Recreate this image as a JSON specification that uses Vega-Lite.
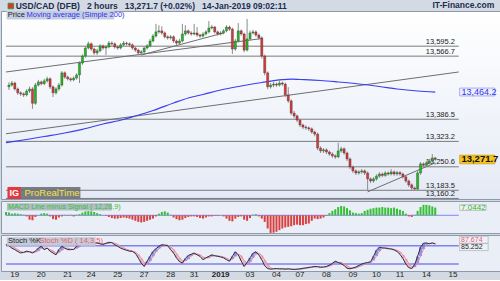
{
  "$schema": "https://vega.github.io/schema/vega-lite/v6.json",
  "background": "#d3dae3",
  "padding": 0,
  "spacing": 0,
  "config": {
    "font": "Liberation Sans",
    "view": {"stroke": "#8e99a9", "strokeWidth": 1},
    "axis": {"labelFont": "Liberation Sans", "labelColor": "#1e1e1e", "labelFontSize": 8.5, "grid": false, "domainColor": "#8e99a9", "tickColor": "#8e99a9"}
  },
  "datasets": {
    "candles": [
      {"t":1,"o":13479,"h":13492,"l":13470,"c":13484},
      {"t":2,"o":13484,"h":13496,"l":13480,"c":13490},
      {"t":3,"o":13490,"h":13494,"l":13468,"c":13473},
      {"t":4,"o":13473,"h":13477,"l":13456,"c":13462},
      {"t":5,"o":13462,"h":13466,"l":13453,"c":13459},
      {"t":6,"o":13459,"h":13463,"l":13450,"c":13456},
      {"t":7,"o":13456,"h":13472,"l":13452,"c":13467},
      {"t":8,"o":13467,"h":13480,"l":13462,"c":13473},
      {"t":9,"o":13473,"h":13478,"l":13416,"c":13432},
      {"t":10,"o":13432,"h":13490,"l":13428,"c":13484},
      {"t":11,"o":13484,"h":13499,"l":13480,"c":13493},
      {"t":12,"o":13493,"h":13497,"l":13483,"c":13488},
      {"t":13,"o":13488,"h":13502,"l":13484,"c":13496},
      {"t":14,"o":13496,"h":13508,"l":13491,"c":13502},
      {"t":15,"o":13502,"h":13506,"l":13473,"c":13479},
      {"t":16,"o":13479,"h":13483,"l":13450,"c":13462},
      {"t":17,"o":13462,"h":13478,"l":13457,"c":13473},
      {"t":18,"o":13473,"h":13490,"l":13468,"c":13484},
      {"t":19,"o":13484,"h":13524,"l":13480,"c":13519},
      {"t":20,"o":13519,"h":13523,"l":13502,"c":13507},
      {"t":21,"o":13507,"h":13511,"l":13497,"c":13502},
      {"t":22,"o":13502,"h":13506,"l":13494,"c":13499},
      {"t":23,"o":13499,"h":13509,"l":13495,"c":13504},
      {"t":24,"o":13504,"h":13518,"l":13500,"c":13513},
      {"t":25,"o":13513,"h":13552,"l":13490,"c":13547},
      {"t":26,"o":13547,"h":13572,"l":13542,"c":13567},
      {"t":27,"o":13567,"h":13595,"l":13562,"c":13590},
      {"t":28,"o":13590,"h":13608,"l":13586,"c":13602},
      {"t":29,"o":13602,"h":13606,"l":13582,"c":13587},
      {"t":30,"o":13587,"h":13591,"l":13571,"c":13576},
      {"t":31,"o":13576,"h":13588,"l":13570,"c":13582},
      {"t":32,"o":13582,"h":13601,"l":13578,"c":13596},
      {"t":33,"o":13596,"h":13600,"l":13585,"c":13590},
      {"t":34,"o":13590,"h":13598,"l":13570,"c":13593},
      {"t":35,"o":13593,"h":13610,"l":13589,"c":13604},
      {"t":36,"o":13604,"h":13609,"l":13597,"c":13602},
      {"t":37,"o":13602,"h":13606,"l":13588,"c":13593},
      {"t":38,"o":13593,"h":13597,"l":13585,"c":13590},
      {"t":39,"o":13590,"h":13604,"l":13586,"c":13599},
      {"t":40,"o":13599,"h":13610,"l":13595,"c":13604},
      {"t":41,"o":13604,"h":13608,"l":13597,"c":13602},
      {"t":42,"o":13602,"h":13606,"l":13594,"c":13599},
      {"t":43,"o":13599,"h":13603,"l":13585,"c":13590},
      {"t":44,"o":13590,"h":13594,"l":13579,"c":13584},
      {"t":45,"o":13584,"h":13588,"l":13570,"c":13576},
      {"t":46,"o":13576,"h":13584,"l":13571,"c":13579},
      {"t":47,"o":13579,"h":13595,"l":13575,"c":13590},
      {"t":48,"o":13590,"h":13601,"l":13586,"c":13596},
      {"t":49,"o":13596,"h":13616,"l":13592,"c":13610},
      {"t":50,"o":13610,"h":13630,"l":13606,"c":13624},
      {"t":51,"o":13624,"h":13659,"l":13620,"c":13636},
      {"t":52,"o":13636,"h":13655,"l":13631,"c":13639},
      {"t":53,"o":13639,"h":13652,"l":13628,"c":13633},
      {"t":54,"o":13633,"h":13637,"l":13617,"c":13622},
      {"t":55,"o":13622,"h":13626,"l":13614,"c":13619},
      {"t":56,"o":13619,"h":13627,"l":13614,"c":13622},
      {"t":57,"o":13622,"h":13626,"l":13605,"c":13610},
      {"t":58,"o":13610,"h":13614,"l":13599,"c":13604},
      {"t":59,"o":13604,"h":13616,"l":13600,"c":13610},
      {"t":60,"o":13610,"h":13659,"l":13606,"c":13630},
      {"t":61,"o":13630,"h":13655,"l":13625,"c":13639},
      {"t":62,"o":13639,"h":13643,"l":13628,"c":13633},
      {"t":63,"o":13633,"h":13638,"l":13625,"c":13630},
      {"t":64,"o":13630,"h":13659,"l":13626,"c":13633},
      {"t":65,"o":13633,"h":13650,"l":13622,"c":13627},
      {"t":66,"o":13627,"h":13631,"l":13619,"c":13624},
      {"t":67,"o":13624,"h":13635,"l":13620,"c":13630},
      {"t":68,"o":13630,"h":13641,"l":13626,"c":13636},
      {"t":69,"o":13636,"h":13667,"l":13632,"c":13647},
      {"t":70,"o":13647,"h":13656,"l":13643,"c":13650},
      {"t":71,"o":13650,"h":13653,"l":13631,"c":13636},
      {"t":72,"o":13636,"h":13640,"l":13625,"c":13630},
      {"t":73,"o":13630,"h":13638,"l":13626,"c":13633},
      {"t":74,"o":13633,"h":13644,"l":13629,"c":13639},
      {"t":75,"o":13639,"h":13655,"l":13635,"c":13650},
      {"t":76,"o":13650,"h":13654,"l":13639,"c":13644},
      {"t":77,"o":13644,"h":13648,"l":13573,"c":13587},
      {"t":78,"o":13587,"h":13616,"l":13582,"c":13610},
      {"t":79,"o":13610,"h":13661,"l":13605,"c":13639},
      {"t":80,"o":13639,"h":13643,"l":13625,"c":13630},
      {"t":81,"o":13630,"h":13634,"l":13578,"c":13584},
      {"t":82,"o":13584,"h":13673,"l":13580,"c":13616},
      {"t":83,"o":13616,"h":13640,"l":13611,"c":13633},
      {"t":84,"o":13633,"h":13642,"l":13629,"c":13636},
      {"t":85,"o":13636,"h":13640,"l":13622,"c":13627},
      {"t":86,"o":13627,"h":13631,"l":13614,"c":13619},
      {"t":87,"o":13619,"h":13623,"l":13560,"c":13567},
      {"t":88,"o":13567,"h":13571,"l":13512,"c":13519},
      {"t":89,"o":13519,"h":13523,"l":13472,"c":13479},
      {"t":90,"o":13479,"h":13490,"l":13474,"c":13484},
      {"t":91,"o":13484,"h":13493,"l":13478,"c":13487},
      {"t":92,"o":13487,"h":13491,"l":13479,"c":13484},
      {"t":93,"o":13484,"h":13497,"l":13480,"c":13490},
      {"t":94,"o":13490,"h":13494,"l":13482,"c":13487},
      {"t":95,"o":13487,"h":13491,"l":13450,"c":13456},
      {"t":96,"o":13456,"h":13478,"l":13433,"c":13439},
      {"t":97,"o":13439,"h":13443,"l":13398,"c":13404},
      {"t":98,"o":13404,"h":13410,"l":13390,"c":13396},
      {"t":99,"o":13396,"h":13400,"l":13378,"c":13384},
      {"t":100,"o":13384,"h":13388,"l":13364,"c":13370},
      {"t":101,"o":13370,"h":13374,"l":13358,"c":13364},
      {"t":102,"o":13364,"h":13369,"l":13356,"c":13362},
      {"t":103,"o":13362,"h":13366,"l":13353,"c":13359},
      {"t":104,"o":13359,"h":13363,"l":13345,"c":13350},
      {"t":105,"o":13350,"h":13354,"l":13338,"c":13344},
      {"t":106,"o":13344,"h":13348,"l":13298,"c":13304},
      {"t":107,"o":13304,"h":13309,"l":13290,"c":13296},
      {"t":108,"o":13296,"h":13304,"l":13290,"c":13299},
      {"t":109,"o":13299,"h":13303,"l":13287,"c":13293},
      {"t":110,"o":13293,"h":13297,"l":13282,"c":13287},
      {"t":111,"o":13287,"h":13292,"l":13276,"c":13282},
      {"t":112,"o":13282,"h":13286,"l":13273,"c":13279},
      {"t":113,"o":13279,"h":13319,"l":13275,"c":13296},
      {"t":114,"o":13296,"h":13308,"l":13291,"c":13302},
      {"t":115,"o":13302,"h":13306,"l":13285,"c":13290},
      {"t":116,"o":13290,"h":13294,"l":13267,"c":13273},
      {"t":117,"o":13273,"h":13277,"l":13244,"c":13250},
      {"t":118,"o":13250,"h":13254,"l":13233,"c":13239},
      {"t":119,"o":13239,"h":13243,"l":13227,"c":13233},
      {"t":120,"o":13233,"h":13241,"l":13228,"c":13236},
      {"t":121,"o":13236,"h":13244,"l":13231,"c":13239},
      {"t":122,"o":13239,"h":13243,"l":13227,"c":13233},
      {"t":123,"o":13233,"h":13237,"l":13182,"c":13216},
      {"t":124,"o":13216,"h":13220,"l":13204,"c":13210},
      {"t":125,"o":13210,"h":13221,"l":13205,"c":13216},
      {"t":126,"o":13216,"h":13229,"l":13211,"c":13224},
      {"t":127,"o":13224,"h":13235,"l":13219,"c":13230},
      {"t":128,"o":13230,"h":13234,"l":13221,"c":13226},
      {"t":129,"o":13226,"h":13238,"l":13222,"c":13233},
      {"t":130,"o":13233,"h":13237,"l":13225,"c":13230},
      {"t":131,"o":13230,"h":13244,"l":13226,"c":13236},
      {"t":132,"o":13236,"h":13240,"l":13225,"c":13230},
      {"t":133,"o":13230,"h":13239,"l":13225,"c":13234},
      {"t":134,"o":13234,"h":13238,"l":13225,"c":13230},
      {"t":135,"o":13230,"h":13234,"l":13217,"c":13222},
      {"t":136,"o":13222,"h":13226,"l":13205,"c":13210},
      {"t":137,"o":13210,"h":13214,"l":13193,"c":13199},
      {"t":138,"o":13199,"h":13203,"l":13184,"c":13190},
      {"t":139,"o":13190,"h":13194,"l":13182,"c":13187},
      {"t":140,"o":13187,"h":13238,"l":13183,"c":13233},
      {"t":141,"o":13233,"h":13264,"l":13228,"c":13259},
      {"t":142,"o":13259,"h":13263,"l":13250,"c":13255},
      {"t":143,"o":13255,"h":13267,"l":13251,"c":13262},
      {"t":144,"o":13262,"h":13273,"l":13258,"c":13267},
      {"t":145,"o":13267,"h":13287,"l":13262,"c":13276},
      {"t":146,"o":13276,"h":13279,"l":13268,"c":13271.7}
    ],
    "ma": [
      {"t":0,"v":13319.5},{"t":7,"v":13328.6},{"t":13,"v":13337.2},{"t":20,"v":13347.2},
      {"t":26,"v":13357.7},{"t":33,"v":13372.9},{"t":40,"v":13385.7},{"t":44,"v":13395.7},
      {"t":50,"v":13411.5},{"t":57,"v":13432.9},{"t":62,"v":13447.2},{"t":67,"v":13457.2},
      {"t":73,"v":13470},{"t":80,"v":13481.4},{"t":87,"v":13491.4},{"t":94,"v":13499.5},
      {"t":97,"v":13501},{"t":100,"v":13500},{"t":107,"v":13497.2},{"t":113,"v":13492.9},
      {"t":120,"v":13487.2},{"t":127,"v":13480},{"t":133,"v":13472.9},{"t":140,"v":13467.2},
      {"t":146,"v":13464.2}
    ],
    "levels": [
      {"p":13595.2},{"p":13566.7},{"p":13386.5},{"p":13323.2},{"p":13250.6},{"p":13183.5},{"p":13160.2}
    ],
    "trend": [
      {"id":"A","t":0,"p":13345},{"id":"A","t":154,"p":13521.5},
      {"id":"B","t":0,"p":13521.5},{"id":"B","t":87,"p":13617},
      {"id":"C","t":46,"p":13570},{"id":"C","t":74,"p":13633},
      {"id":"D","t":123,"p":13179},{"id":"D","t":146,"p":13262}
    ],
    "days": [
      {"t":3,"day":"19"},{"t":12,"day":"20"},{"t":21,"day":"21"},{"t":29,"day":"24"},{"t":38,"day":"25"},{"t":47,"day":"27"},
      {"t":56,"day":"28"},{"t":64,"day":"31"},{"t":73,"day":"2019"},{"t":83,"day":"03"},{"t":92,"day":"04"},{"t":100,"day":"07"},
      {"t":109,"day":"08"},{"t":118,"day":"09"},{"t":126,"day":"10"},{"t":134,"day":"11"},{"t":143,"day":"14"},{"t":152,"day":"15"}
    ],
    "macd": [
      {"t":0,"m":3},{"t":1,"m":2.5},{"t":2,"m":1.5},{"t":3,"m":1.8},{"t":4,"m":1.5},{"t":5,"m":1},{"t":6,"m":0.5},{"t":7,"m":-1},
      {"t":8,"m":-4},{"t":9,"m":-4.5},{"t":10,"m":-1.5},{"t":11,"m":0.2},{"t":12,"m":1.5},{"t":13,"m":2},{"t":14,"m":1.5},{"t":15,"m":-1},
      {"t":16,"m":-3.5},{"t":17,"m":-4},{"t":18,"m":-2},{"t":19,"m":-1},{"t":20,"m":0.5},{"t":21,"m":-0.5},{"t":22,"m":0.5},{"t":23,"m":-1},
      {"t":24,"m":0.5},{"t":25,"m":1},{"t":26,"m":2.5},{"t":27,"m":3.5},{"t":28,"m":3.8},{"t":29,"m":3.6},{"t":30,"m":3},{"t":31,"m":2},
      {"t":32,"m":1},{"t":33,"m":0.2},{"t":34,"m":-0.5},{"t":35,"m":-1.5},{"t":36,"m":-2.5},{"t":37,"m":-3},{"t":38,"m":-3},{"t":39,"m":-2.5},
      {"t":40,"m":-2},{"t":41,"m":-2.5},{"t":42,"m":-3},{"t":43,"m":-4},{"t":44,"m":-5},{"t":45,"m":-6},{"t":46,"m":-6.5},{"t":47,"m":-6},
      {"t":48,"m":-5},{"t":49,"m":-4},{"t":50,"m":-3},{"t":51,"m":-1},{"t":52,"m":1.5},{"t":53,"m":3},{"t":54,"m":3.6},{"t":55,"m":2.5},
      {"t":56,"m":0.5},{"t":57,"m":-2},{"t":58,"m":-3.5},{"t":59,"m":-4.5},{"t":60,"m":-4},{"t":61,"m":-2.5},{"t":62,"m":-1.5},{"t":63,"m":-1},
      {"t":64,"m":-1},{"t":65,"m":-1.5},{"t":66,"m":-2.5},{"t":67,"m":-3},{"t":68,"m":-2},{"t":69,"m":-1},{"t":70,"m":-1},{"t":71,"m":-0.5},
      {"t":72,"m":-0.5},{"t":73,"m":0.2},{"t":74,"m":-1},{"t":75,"m":-3},{"t":76,"m":-5},{"t":77,"m":-5.5},{"t":78,"m":-3},{"t":79,"m":-1.5},
      {"t":80,"m":-1},{"t":81,"m":-4},{"t":82,"m":-5},{"t":83,"m":-2.5},{"t":84,"m":0.5},{"t":85,"m":1},{"t":86,"m":-1},{"t":87,"m":-3},
      {"t":88,"m":-6},{"t":89,"m":-12},{"t":90,"m":-16},{"t":91,"m":-15.8},{"t":92,"m":-15},{"t":93,"m":-13.5},{"t":94,"m":-12},{"t":95,"m":-11},
      {"t":96,"m":-10.5},{"t":97,"m":-10},{"t":98,"m":-9},{"t":99,"m":-8.5},{"t":100,"m":-9},{"t":101,"m":-9},{"t":102,"m":-8},{"t":103,"m":-7.5},
      {"t":104,"m":-5},{"t":105,"m":-3},{"t":106,"m":-3.5},{"t":107,"m":-3},{"t":108,"m":-2},{"t":109,"m":-0.5},{"t":110,"m":2},{"t":111,"m":4},
      {"t":112,"m":5.5},{"t":113,"m":7.5},{"t":114,"m":8.5},{"t":115,"m":8},{"t":116,"m":6.5},{"t":117,"m":4.5},{"t":118,"m":2.5},{"t":119,"m":2},
      {"t":120,"m":1.5},{"t":121,"m":2},{"t":122,"m":4},{"t":123,"m":5},{"t":124,"m":6},{"t":125,"m":6.5},{"t":126,"m":7},{"t":127,"m":7},
      {"t":128,"m":7.5},{"t":129,"m":7},{"t":130,"m":7},{"t":131,"m":6.5},{"t":132,"m":7},{"t":133,"m":6},{"t":134,"m":5},{"t":135,"m":4},
      {"t":136,"m":1.5},{"t":137,"m":-1},{"t":138,"m":-1.5},{"t":139,"m":0.5},{"t":140,"m":4},{"t":141,"m":7.5},{"t":142,"m":9.5},{"t":143,"m":9.5},
      {"t":144,"m":9},{"t":145,"m":8},{"t":146,"m":7.0442}
    ],
    "stoch": [
      {"t":0,"k":83,"d":85},{"t":1,"k":80,"d":84},{"t":2,"k":72,"d":78},{"t":3,"k":67,"d":73},{"t":4,"k":61,"d":67},{"t":5,"k":56,"d":61},
      {"t":6,"k":58,"d":58},{"t":7,"k":62,"d":59},{"t":8,"k":60,"d":60},{"t":9,"k":56,"d":59},{"t":10,"k":62,"d":59},{"t":11,"k":72,"d":63},
      {"t":12,"k":78,"d":71},{"t":13,"k":67,"d":72},{"t":14,"k":72,"d":72},{"t":15,"k":62,"d":67},{"t":16,"k":56,"d":63},{"t":17,"k":50,"d":56},
      {"t":18,"k":67,"d":58},{"t":19,"k":78,"d":65},{"t":20,"k":72,"d":72},{"t":21,"k":67,"d":72},{"t":22,"k":67,"d":69},{"t":23,"k":68,"d":67},
      {"t":24,"k":78,"d":71},{"t":25,"k":83,"d":76},{"t":26,"k":89,"d":83},{"t":27,"k":91,"d":88},{"t":28,"k":90,"d":90},{"t":29,"k":86,"d":89},
      {"t":30,"k":88,"d":88},{"t":31,"k":89,"d":88},{"t":32,"k":86,"d":88},{"t":33,"k":84,"d":86},{"t":34,"k":88,"d":86},{"t":35,"k":91,"d":88},
      {"t":36,"k":90,"d":90},{"t":37,"k":83,"d":88},{"t":38,"k":78,"d":84},{"t":39,"k":72,"d":78},{"t":40,"k":68,"d":73},{"t":41,"k":65,"d":68},
      {"t":42,"k":62,"d":65},{"t":43,"k":61,"d":63},{"t":44,"k":55,"d":59},{"t":45,"k":40,"d":52},{"t":46,"k":23,"d":39},{"t":47,"k":12,"d":25},
      {"t":48,"k":29,"d":21},{"t":49,"k":45,"d":29},{"t":50,"k":61,"d":45},{"t":51,"k":70,"d":59},{"t":52,"k":78,"d":70},{"t":53,"k":83,"d":77},
      {"t":54,"k":82,"d":81},{"t":55,"k":80,"d":82},{"t":56,"k":67,"d":76},{"t":57,"k":56,"d":68},{"t":58,"k":40,"d":54},{"t":59,"k":28,"d":41},
      {"t":60,"k":23,"d":30},{"t":61,"k":38,"d":30},{"t":62,"k":48,"d":36},{"t":63,"k":52,"d":46},{"t":64,"k":56,"d":52},{"t":65,"k":50,"d":53},
      {"t":66,"k":45,"d":50},{"t":67,"k":34,"d":43},{"t":68,"k":40,"d":40},{"t":69,"k":45,"d":40},{"t":70,"k":50,"d":45},{"t":71,"k":47,"d":47},
      {"t":72,"k":45,"d":47},{"t":73,"k":43,"d":45},{"t":74,"k":40,"d":43},{"t":75,"k":34,"d":39},{"t":76,"k":29,"d":34},{"t":77,"k":45,"d":36},
      {"t":78,"k":60,"d":45},{"t":79,"k":50,"d":52},{"t":80,"k":30,"d":47},{"t":81,"k":12,"d":31},{"t":82,"k":25,"d":22},{"t":83,"k":40,"d":26},
      {"t":84,"k":55,"d":40},{"t":85,"k":60,"d":52},{"t":86,"k":50,"d":55},{"t":87,"k":34,"d":48},{"t":88,"k":14,"d":33},{"t":89,"k":5,"d":18},
      {"t":90,"k":3,"d":7},{"t":91,"k":4,"d":4},{"t":92,"k":5,"d":4},{"t":93,"k":4,"d":4},{"t":94,"k":4,"d":4},{"t":95,"k":3,"d":4},
      {"t":96,"k":4,"d":4},{"t":97,"k":3,"d":3},{"t":98,"k":2,"d":3},{"t":99,"k":3,"d":3},{"t":100,"k":4,"d":3},{"t":101,"k":6,"d":4},
      {"t":102,"k":7,"d":6},{"t":103,"k":9,"d":7},{"t":104,"k":10,"d":9},{"t":105,"k":12,"d":10},{"t":106,"k":11,"d":11},{"t":107,"k":9,"d":11},
      {"t":108,"k":10,"d":10},{"t":109,"k":12,"d":10},{"t":110,"k":16,"d":13},{"t":111,"k":22,"d":17},{"t":112,"k":29,"d":22},{"t":113,"k":25,"d":25},
      {"t":114,"k":21,"d":25},{"t":115,"k":15,"d":20},{"t":116,"k":6,"d":14},{"t":117,"k":4,"d":8},{"t":118,"k":7,"d":6},{"t":119,"k":10,"d":7},
      {"t":120,"k":15,"d":11},{"t":121,"k":20,"d":15},{"t":122,"k":23,"d":19},{"t":123,"k":25,"d":23},{"t":124,"k":27,"d":25},{"t":125,"k":45,"d":32},
      {"t":126,"k":65,"d":46},{"t":127,"k":75,"d":62},{"t":128,"k":73,"d":71},{"t":129,"k":72,"d":73},{"t":130,"k":70,"d":72},{"t":131,"k":69,"d":70},
      {"t":132,"k":66,"d":68},{"t":133,"k":61,"d":65},{"t":134,"k":52,"d":60},{"t":135,"k":38,"d":50},{"t":136,"k":20,"d":37},{"t":137,"k":8,"d":22},
      {"t":138,"k":5,"d":11},{"t":139,"k":18,"d":10},{"t":140,"k":45,"d":23},{"t":141,"k":75,"d":46},{"t":142,"k":88,"d":69},{"t":143,"k":89,"d":84},
      {"t":144,"k":86,"d":88},{"t":145,"k":89,"d":88},{"t":146,"k":85.252,"d":87.674}
    ]
  },
  "vconcat": [
    {
      "width": 500,
      "height": 188,
      "view": {"fill": {"gradient": "linear", "x1": 0, "y1": 0, "x2": 0, "y2": 1, "stops": [{"offset": 0, "color": "#ffffff"}, {"offset": 1, "color": "#e4eaf5"}]}},
      "layer": [
        {
          "data": {"name": "levels"},
          "mark": {"type": "rule", "color": "#7a7a7a", "strokeWidth": 1},
          "encoding": {
            "x": {"datum": 0, "type": "quantitative", "scale": {"domain": [0, 166.667], "nice": false, "zero": false}, "axis": null},
            "x2": {"datum": 154},
            "y": {"field": "p", "type": "quantitative", "scale": {"domain": [13158.6, 13695.7], "nice": false, "zero": false},
              "axis": {"orient": "right", "offset": -38, "title": null, "values": [13200, 13250, 13300, 13350, 13400, 13450, 13500, 13550, 13600, 13650], "format": ",.0f", "tickSize": 2, "labelPadding": 2, "labelFontSize": 8.5,
                "labelFontWeight": {"condition": {"test": "datum.value == 13500", "value": "bold"}, "value": "normal"}}}
          }
        },
        {
          "data": {"name": "levels"},
          "mark": {"type": "text", "align": "right", "baseline": "bottom", "dy": -0.5, "fontSize": 7.5, "color": "#222222"},
          "encoding": {
            "x": {"datum": 152.7, "type": "quantitative", "axis": null},
            "y": {"field": "p", "type": "quantitative", "axis": null},
            "text": {"field": "p", "type": "quantitative", "format": ",.1f"}
          }
        },
        {
          "data": {"name": "trend"},
          "mark": {"type": "line", "color": "#6e6e6e", "strokeWidth": 1},
          "encoding": {
            "x": {"field": "t", "type": "quantitative", "axis": null},
            "y": {"field": "p", "type": "quantitative", "axis": null},
            "detail": {"field": "id"}
          }
        },
        {
          "data": {"name": "ma"},
          "mark": {"type": "line", "color": "#3a3ff0", "strokeWidth": 1.2, "interpolate": "monotone"},
          "encoding": {
            "x": {"field": "t", "type": "quantitative", "axis": null},
            "y": {"field": "v", "type": "quantitative", "axis": null}
          }
        },
        {
          "data": {"name": "candles"},
          "mark": {"type": "rule", "color": "#8c8c8c", "strokeWidth": 1},
          "encoding": {
            "x": {"field": "t", "type": "quantitative", "axis": null},
            "y": {"field": "l", "type": "quantitative", "axis": null},
            "y2": {"field": "h"}
          }
        },
        {
          "data": {"name": "candles"},
          "mark": {"type": "bar", "size": 2.2, "stroke": "#2a2a2a", "strokeWidth": 0.3},
          "encoding": {
            "x": {"field": "t", "type": "quantitative", "axis": null},
            "y": {"field": "o", "type": "quantitative", "axis": null},
            "y2": {"field": "c"},
            "color": {"condition": {"test": "datum.c >= datum.o", "value": "#22b522"}, "value": "#d23a3a"}
          }
        },
        {
          "data": {"values": [{"name": "Price"}]},
          "mark": {"type": "rect", "color": "#c3cde0"},
          "encoding": {
            "x": {"datum": 0.2, "type": "quantitative", "axis": null},
            "x2": {"datum": 36.8},
            "y": {"datum": 13695.5, "type": "quantitative", "axis": null},
            "y2": {"datum": 13671.5}
          }
        },
        {
          "data": {"values": [{"name": "Price"}]},
          "mark": {"type": "text", "align": "left", "baseline": "middle", "fontSize": 7.5, "color": "#1e1e1e"},
          "encoding": {
            "x": {"datum": 0.6, "type": "quantitative", "axis": null},
            "y": {"datum": 13684, "type": "quantitative", "axis": null},
            "text": {"field": "name"}
          }
        },
        {
          "data": {"values": [{"name": "Moving average (Simple 200)"}]},
          "mark": {"type": "text", "align": "left", "baseline": "middle", "fontSize": 7.5, "color": "#3535ee"},
          "encoding": {
            "x": {"datum": 7, "type": "quantitative", "axis": null},
            "y": {"datum": 13684, "type": "quantitative", "axis": null},
            "text": {"field": "name"}
          }
        },
        {
          "data": {"values": [{"name": "ProRealTime"}]},
          "mark": {"type": "rect", "color": "#6d7075", "opacity": 0.9},
          "encoding": {
            "x": {"datum": 0.57, "type": "quantitative", "axis": null},
            "x2": {"datum": 25.3},
            "y": {"datum": 13193, "type": "quantitative", "axis": null},
            "y2": {"datum": 13159}
          }
        },
        {
          "data": {"values": [{"name": "IG"}]},
          "mark": {"type": "rect", "color": "#e2383e"},
          "encoding": {
            "x": {"datum": 0.57, "type": "quantitative", "axis": null},
            "x2": {"datum": 5},
            "y": {"datum": 13193, "type": "quantitative", "axis": null},
            "y2": {"datum": 13159}
          }
        },
        {
          "data": {"values": [{"name": "IG"}]},
          "mark": {"type": "text", "align": "center", "baseline": "middle", "fontSize": 9, "fontWeight": "bold", "color": "#ffffff"},
          "encoding": {
            "x": {"datum": 2.8, "type": "quantitative", "axis": null},
            "y": {"datum": 13175.5, "type": "quantitative", "axis": null},
            "text": {"field": "name"}
          }
        },
        {
          "data": {"values": [{"name": "ProRealTime"}]},
          "mark": {"type": "text", "align": "left", "baseline": "middle", "fontSize": 9.5, "color": "#f2e24a"},
          "encoding": {
            "x": {"datum": 6.3, "type": "quantitative", "axis": null},
            "y": {"datum": 13175.5, "type": "quantitative", "axis": null},
            "text": {"field": "name"}
          }
        },
        {
          "data": {"values": [{"name": "13,271.7"}]},
          "mark": {"type": "rect", "color": "#f6c21c", "stroke": "#b08a10", "strokeWidth": 0.5},
          "encoding": {
            "x": {"datum": 154.3, "type": "quantitative", "axis": null},
            "x2": {"datum": 166.3},
            "y": {"datum": 13284, "type": "quantitative", "axis": null},
            "y2": {"datum": 13259}
          }
        },
        {
          "data": {"values": [{"name": "13,271.7"}]},
          "mark": {"type": "text", "align": "left", "baseline": "middle", "fontSize": 9.5, "fontWeight": "bold", "color": "#111111"},
          "encoding": {
            "x": {"datum": 154.9, "type": "quantitative", "axis": null},
            "y": {"datum": 13271.7, "type": "quantitative", "axis": null},
            "text": {"field": "name"}
          }
        },
        {
          "data": {"values": [{"name": "13,464.2"}]},
          "mark": {"type": "rect", "color": "#eef1fa", "stroke": "#7b82e8", "strokeWidth": 0.6},
          "encoding": {
            "x": {"datum": 154.3, "type": "quantitative", "axis": null},
            "x2": {"datum": 166.3},
            "y": {"datum": 13475.5, "type": "quantitative", "axis": null},
            "y2": {"datum": 13453}
          }
        },
        {
          "data": {"values": [{"name": "13,464.2"}]},
          "mark": {"type": "text", "align": "left", "baseline": "middle", "fontSize": 9, "color": "#3535ee"},
          "encoding": {
            "x": {"datum": 154.9, "type": "quantitative", "axis": null},
            "y": {"datum": 13464.2, "type": "quantitative", "axis": null},
            "text": {"field": "name"}
          }
        },
        {
          "data": {"values": [{"name": "icon"}]},
          "mark": {"type": "rect", "color": "#d9363c", "stroke": "#2a9a2a", "strokeWidth": 0.8},
          "encoding": {
            "x": {"datum": 0.7, "type": "quantitative", "axis": null},
            "x2": {"datum": 2.6},
            "y": {"datum": 13718, "type": "quantitative", "axis": null},
            "y2": {"datum": 13702}
          }
        },
        {
          "data": {"values": [{"name": "USD/CAD (DFB)\u00a0\u00a0 2 hours\u00a0\u00a0 13,271.7 (+0.02%)\u00a0\u00a0 14-Jan-2019 09:02:11"}]},
          "mark": {"type": "text", "align": "left", "baseline": "top", "dy": 1, "fontSize": 8.5, "fontWeight": "bold", "color": "#1d2c50"},
          "encoding": {
            "x": {"datum": 3.3, "type": "quantitative", "axis": null},
            "y": {"datum": 13724.3, "type": "quantitative", "axis": null},
            "text": {"field": "name"}
          }
        },
        {
          "data": {"values": [{"name": "IT-Finance.com"}]},
          "mark": {"type": "text", "align": "right", "baseline": "top", "fontSize": 8.5, "fontWeight": "bold", "color": "#1d2c50"},
          "encoding": {
            "x": {"datum": 166.1, "type": "quantitative", "axis": null},
            "y": {"datum": 13724.3, "type": "quantitative", "axis": null},
            "text": {"field": "name"}
          }
        }
      ]
    },
    {
      "width": 500,
      "height": 32,
      "view": {"fill": "#eaeef6"},
      "layer": [
        {
          "data": {"values": [{"z": 0}]},
          "mark": {"type": "rule", "color": "#8585ee", "strokeWidth": 1},
          "encoding": {
            "x": {"datum": 0, "type": "quantitative", "scale": {"domain": [0, 166.667], "nice": false, "zero": false}, "axis": null},
            "x2": {"datum": 154},
            "y": {"field": "z", "type": "quantitative", "scale": {"domain": [-16.1, 13], "nice": false, "zero": false},
              "axis": {"orient": "right", "offset": -38, "title": null, "values": [0, -10], "tickSize": 2, "labelPadding": 3, "labelFontSize": 8.5}}
          }
        },
        {
          "data": {"name": "macd"},
          "mark": {"type": "bar", "size": 2},
          "encoding": {
            "x": {"field": "t", "type": "quantitative", "axis": null},
            "y": {"field": "m", "type": "quantitative", "axis": null},
            "y2": {"datum": 0},
            "color": {"condition": {"test": "datum.m >= 0", "value": "#35c035"}, "value": "#d94040"}
          }
        },
        {
          "data": {"values": [{"name": "MACD Line minus Signal ( 12,26,9)"}]},
          "mark": {"type": "rect", "color": "#b4bcc9"},
          "encoding": {
            "x": {"datum": 0.3, "type": "quantitative", "axis": null},
            "x2": {"datum": 36},
            "y": {"datum": 11, "type": "quantitative", "axis": null},
            "y2": {"datum": 4.3}
          }
        },
        {
          "data": {"values": [{"name": "MACD Line minus Signal ( 12,26,9)"}]},
          "mark": {"type": "text", "align": "left", "baseline": "middle", "fontSize": 7.2, "color": "#2fc42f"},
          "encoding": {
            "x": {"datum": 0.7, "type": "quantitative", "axis": null},
            "y": {"datum": 7.6, "type": "quantitative", "axis": null},
            "text": {"field": "name"}
          }
        },
        {
          "data": {"values": [{"name": "7.0442"}]},
          "mark": {"type": "rect", "color": "#eef3ee", "stroke": "#9aa6b5", "strokeWidth": 0.6},
          "encoding": {
            "x": {"datum": 154.3, "type": "quantitative", "axis": null},
            "x2": {"datum": 163.3},
            "y": {"datum": 9.6, "type": "quantitative", "axis": null},
            "y2": {"datum": 4.4}
          }
        },
        {
          "data": {"values": [{"name": "7.0442"}]},
          "mark": {"type": "text", "align": "left", "baseline": "middle", "fontSize": 8, "color": "#2fb52f"},
          "encoding": {
            "x": {"datum": 154.8, "type": "quantitative", "axis": null},
            "y": {"datum": 7.0, "type": "quantitative", "axis": null},
            "text": {"field": "name"}
          }
        }
      ]
    },
    {
      "width": 500,
      "height": 36,
      "view": {"fill": "#eaeef6"},
      "layer": [
        {
          "data": {"values": [{"lv": 80}, {"lv": 20}]},
          "mark": {"type": "rule", "color": "#8080ee", "strokeWidth": 1.5},
          "encoding": {
            "x": {"datum": 0, "type": "quantitative", "scale": {"domain": [0, 166.667], "nice": false, "zero": false}, "axis": null},
            "x2": {"datum": 154},
            "y": {"field": "lv", "type": "quantitative", "scale": {"domain": [-3, 115], "nice": false, "zero": false},
              "axis": {"orient": "right", "offset": -38, "title": null, "values": [50], "tickSize": 2, "labelPadding": 3, "labelFontSize": 7.5}}
          }
        },
        {
          "data": {"name": "stoch"},
          "mark": {"type": "bar", "size": 3, "opacity": 0.75},
          "encoding": {
            "x": {"field": "t", "type": "quantitative", "axis": null},
            "y": {"field": "k", "type": "quantitative", "axis": null},
            "y2": {"field": "d"},
            "color": {"condition": {"test": "datum.k >= datum.d", "value": "#6f6fe4"}, "value": "#f0a0b0"}
          }
        },
        {
          "data": {"name": "stoch"},
          "mark": {"type": "line", "color": "#e28b9c", "strokeWidth": 1},
          "encoding": {
            "x": {"field": "t", "type": "quantitative", "axis": null},
            "y": {"field": "d", "type": "quantitative", "axis": null}
          }
        },
        {
          "data": {"name": "stoch"},
          "mark": {"type": "line", "color": "#2e2e44", "strokeWidth": 1},
          "encoding": {
            "x": {"field": "t", "type": "quantitative", "axis": null},
            "y": {"field": "k", "type": "quantitative", "axis": null}
          }
        },
        {
          "data": {"name": "days"},
          "transform": [{"filter": "datum.day != '2019'"}],
          "mark": {"type": "text", "align": "center", "baseline": "middle", "fontSize": 8, "color": "#1e1e1e"},
          "encoding": {
            "x": {"field": "t", "type": "quantitative", "axis": null},
            "y": {"datum": -17.5, "type": "quantitative", "axis": null},
            "text": {"field": "day"}
          }
        },
        {
          "data": {"name": "days"},
          "transform": [{"filter": "datum.day == '2019'"}],
          "mark": {"type": "text", "align": "center", "baseline": "middle", "fontSize": 8, "fontWeight": "bold", "color": "#1e1e1e"},
          "encoding": {
            "x": {"field": "t", "type": "quantitative", "axis": null},
            "y": {"datum": -17.5, "type": "quantitative", "axis": null},
            "text": {"field": "day"}
          }
        },
        {
          "data": {"values": [{"name": "Stoch"}]},
          "mark": {"type": "rect", "color": "#c4cbd7"},
          "encoding": {
            "x": {"datum": 0.3, "type": "quantitative", "axis": null},
            "x2": {"datum": 30.5},
            "y": {"datum": 108, "type": "quantitative", "axis": null},
            "y2": {"datum": 80}
          }
        },
        {
          "data": {"values": [{"name": "Stoch %K"}]},
          "mark": {"type": "text", "align": "left", "baseline": "middle", "fontSize": 7.5, "color": "#1e1e1e"},
          "encoding": {
            "x": {"datum": 0.7, "type": "quantitative", "axis": null},
            "y": {"datum": 94, "type": "quantitative", "axis": null},
            "text": {"field": "name"}
          }
        },
        {
          "data": {"values": [{"name": "Stoch %D ( 14,3,5)"}]},
          "mark": {"type": "text", "align": "left", "baseline": "middle", "fontSize": 7.5, "color": "#ea5c6e"},
          "encoding": {
            "x": {"datum": 11.4, "type": "quantitative", "axis": null},
            "y": {"datum": 94, "type": "quantitative", "axis": null},
            "text": {"field": "name"}
          }
        },
        {
          "data": {"values": [{"name": "87.674"}]},
          "mark": {"type": "rect", "color": "#f5eef2", "stroke": "#9aa6b5", "strokeWidth": 0.6},
          "encoding": {
            "x": {"datum": 154.3, "type": "quantitative", "axis": null},
            "x2": {"datum": 164},
            "y": {"datum": 111, "type": "quantitative", "axis": null},
            "y2": {"datum": 88}
          }
        },
        {
          "data": {"values": [{"name": "87.674"}]},
          "mark": {"type": "text", "align": "left", "baseline": "middle", "fontSize": 7, "color": "#e0607a"},
          "encoding": {
            "x": {"datum": 154.8, "type": "quantitative", "axis": null},
            "y": {"datum": 99.5, "type": "quantitative", "axis": null},
            "text": {"field": "name"}
          }
        },
        {
          "data": {"values": [{"name": "85.252"}]},
          "mark": {"type": "rect", "color": "#eef1f6", "stroke": "#9aa6b5", "strokeWidth": 0.6},
          "encoding": {
            "x": {"datum": 154.3, "type": "quantitative", "axis": null},
            "x2": {"datum": 164},
            "y": {"datum": 87, "type": "quantitative", "axis": null},
            "y2": {"datum": 64}
          }
        },
        {
          "data": {"values": [{"name": "85.252"}]},
          "mark": {"type": "text", "align": "left", "baseline": "middle", "fontSize": 7, "color": "#1e1e1e"},
          "encoding": {
            "x": {"datum": 154.8, "type": "quantitative", "axis": null},
            "y": {"datum": 75.5, "type": "quantitative", "axis": null},
            "text": {"field": "name"}
          }
        }
      ]
    }
  ]
}
